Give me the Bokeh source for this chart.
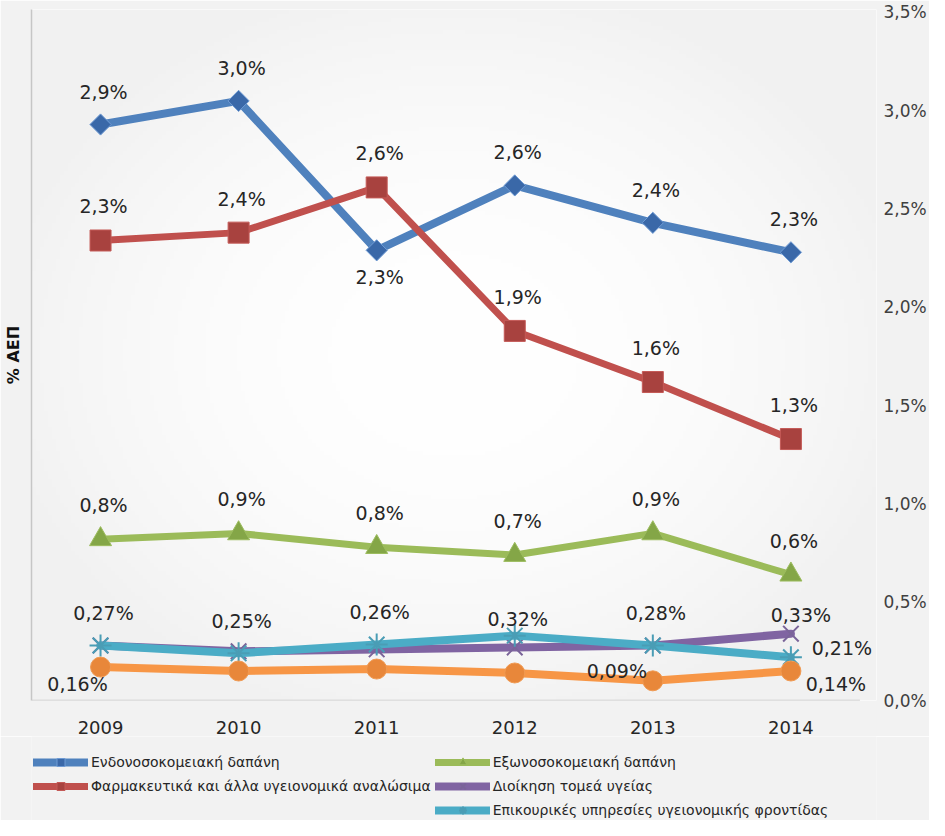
from bokeh.plotting import figure
from bokeh.models import (LinearAxis, FixedTicker, Legend, LegendItem, Range1d)
from bokeh.layouts import column
from bokeh.core.properties import value
from bokeh.embed import file_html
from bokeh.resources import INLINE
import numpy as np
import math

# ---------------- data ----------------
years = [2009, 2010, 2011, 2012, 2013, 2014]
year_labels = ["2009", "2010", "2011", "2012", "2013", "2014"]

inpatient = [2.93, 3.05, 2.29, 2.62, 2.43, 2.28]
pharma = [2.34, 2.38, 2.61, 1.88, 1.62, 1.33]
outpatient = [0.82, 0.85, 0.78, 0.74, 0.85, 0.64]
admin = [0.28, 0.25, 0.26, 0.27, 0.28, 0.34]
ancillary = [0.28, 0.24, 0.285, 0.33, 0.28, 0.22]
other = [0.17, 0.15, 0.16, 0.14, 0.10, 0.15]

inpatient_labels = ["2,9%", "3,0%", "2,3%", "2,6%", "2,4%", "2,3%"]
pharma_labels = ["2,3%", "2,4%", "2,6%", "1,9%", "1,6%", "1,3%"]
outpatient_labels = ["0,8%", "0,9%", "0,8%", "0,7%", "0,9%", "0,6%"]
ancillary_labels = ["0,27%", "0,25%", "0,26%", "0,32%", "0,28%", "0,21%"]
admin_labels = ["0,27%", "0,25%", "0,26%", "0,27%", "0,28%", "0,33%"]
other_labels = ["0,16%", "0,15%", "0,16%", "0,14%", "0,09%", "0,14%"]

names = ["Ενδονοσοκομειακή δαπάνη",
         "Εξωνοσοκομειακή δαπάνη",
         "Φαρμακευτικά και άλλα υγειονομικά αναλώσιμα",
         "Διοίκηση τομεά υγείας",
         "Επικουρικές υπηρεσίες υγειονομικής φροντίδας"]

y_ticks = [0.0, 0.5, 1.0, 1.5, 2.0, 2.5, 3.0, 3.5]
y_tick_labels = ["0,0%", "0,5%", "1,0%", "1,5%", "2,0%", "2,5%", "3,0%", "3,5%"]
y_title = "% ΑΕΠ"

FONT = "DejaVu Sans"
BORDER = "#f2f2f2"

x_lo = years[0] - 0.5
x_hi = years[-1] + 0.5

# styles: (line colour, marker, size, fill, edge, angle, line width)
styles = [
    ("#4f81bd", "square", 15, "#3a68a8", "#6f9bd4", math.pi / 4, 8),
    ("#c0504d", "square", 21, "#a8423f", "#c45a57", 0, 7),
    ("#9bbb59", "triangle", 22, "#84a647", "#9cbc5e", 0, 7),
    ("#8064a2", "x", 22, None, "#7a6499", 0, 8),
    ("#4bacc6", "asterisk", 22, None, "#4a9db5", 0, 8),
    ("#f79646", "circle", 20, "#e8873a", "#f09a52", 0, 8),
]
series_vals = [inpatient, pharma, outpatient, admin, ancillary, other]


def gradient(px0, py0, pw, ph, nx, ny):
    """radial light-grey background (page pixel box -> RGBA image, row 0 at bottom)"""
    xs = px0 + (np.arange(nx) + 0.5) / nx * pw
    ys = py0 + ph - (np.arange(ny) + 0.5) / ny * ph
    X, Y = np.meshgrid(xs, ys)
    r = np.sqrt(((X - 462) / 470) ** 2 + ((Y - 360) / 380) ** 2)
    c = (255 - 14 * np.clip(r, 0, 1.0) ** 2).astype(np.uint8)
    img = np.empty((ny, nx), dtype=np.uint32)
    v = img.view(dtype=np.uint8).reshape((ny, nx, 4))
    v[..., 0] = c
    v[..., 1] = c
    v[..., 2] = c
    v[..., 3] = 255
    return img


def draw_series(fig):
    lines, marks = [], []
    for vals, (col, mk, sz, fc, lc, ang, lw) in zip(series_vals, styles):
        lr = fig.line(years, vals, line_color=col, line_width=lw,
                      line_join="round", line_cap="round")
        if fc is None:
            mr = fig.scatter(years, vals, marker=mk, size=sz, line_color=lc,
                             line_width=2, fill_color=None)
        else:
            mr = fig.scatter(years, vals, marker=mk, size=sz, fill_color=fc,
                             line_color=lc, line_width=1, angle=ang)
        lines.append(lr)
        marks.append(mr)
    return lines, marks


# ---------------- main chart ----------------
x_end = x_hi + 0.12
y_end = 3.515
p = figure(width=929, height=736,
           x_range=Range1d(x_lo, x_end),
           y_range=Range1d(0, y_end), output_backend="svg", toolbar_location=None,
           min_border_left=29, min_border_right=50, min_border_top=9,
           min_border_bottom=0)
p.background_fill_color = "#ffffff"
p.border_fill_color = BORDER
p.outline_line_color = None
p.xgrid.grid_line_color = None
p.ygrid.grid_line_color = None

p.image_rgba(image=[gradient(37, 17, 850, 687, 214, 172)], x=x_lo, y=0,
             dw=x_end - x_lo, dh=y_end)

ya = p.yaxis[0]
ya.ticker = FixedTicker(ticks=[])
ya.axis_line_color = "#c6c6c6"
ya.axis_line_width = 1.5
ya.major_tick_line_color = None
ya.minor_tick_line_color = None
ya.major_label_text_font_size = "0px"
ya.major_label_standoff = 0
ya.axis_label = y_title
ya.axis_label_text_font = FONT
ya.axis_label_text_font_style = "bold"
ya.axis_label_text_font_size = "16px"
ya.axis_label_text_color = "#111111"
ya.axis_label_standoff = 9

ra = LinearAxis(ticker=FixedTicker(ticks=y_ticks),
                major_label_overrides={t: s for t, s in zip(y_ticks, y_tick_labels)})
ra.axis_line_color = None
ra.major_tick_line_color = None
ra.minor_tick_line_color = None
ra.major_label_standoff = 1
ra.major_label_text_font = FONT
ra.major_label_text_font_size = "17px"
ra.major_label_text_color = "#404040"
p.add_layout(ra, "right")

xa = p.xaxis[0]
xa.ticker = FixedTicker(ticks=years)
xa.major_label_overrides = {y: s for y, s in zip(years, year_labels)}
xa.axis_line_color = None
xa.major_tick_line_color = None
xa.minor_tick_line_color = None
xa.major_label_standoff = 14
xa.major_label_text_font = FONT
xa.major_label_text_font_size = "18px"
xa.major_label_text_color = "#262626"

# bottom plot-area border (category span only)
p.segment(x0=[x_lo], y0=[0], x1=[x_hi], y1=[0], line_color="#c6c6c6", line_width=1.5)

draw_series(p)


def add_labels(vals, labs, idx, dx, dy):
    idx = list(idx)
    p.text(x=[years[i] for i in idx], y=[vals[i] for i in idx], text=[labs[i] for i in idx],
           x_offset=dx, y_offset=dy, text_align="center", text_baseline="middle",
           text_font=value(FONT), text_font_size="19px", text_color="#262626")


add_labels(inpatient, inpatient_labels, [0, 1, 3, 4, 5], 3, -33)
add_labels(inpatient, inpatient_labels, [2], 3, 27)
add_labels(pharma, pharma_labels, range(6), 3, -34)
add_labels(outpatient, outpatient_labels, range(6), 3, -34)
add_labels(ancillary, ancillary_labels, [0, 1, 2, 4], 3, -32)
add_labels(ancillary, ancillary_labels, [3], 3, -17)
add_labels(ancillary, ancillary_labels, [5], 51, -9)
add_labels(admin, admin_labels, [5], 10, -19)
add_labels(other, other_labels, [0], -23, 17)
add_labels(other, other_labels, [4], -36, -10)
add_labels(other, other_labels, [5], 45, 13)

# ---------------- legend strip ----------------
q = figure(width=929, height=84, x_range=Range1d(0, 1), y_range=Range1d(0, 1),
           output_backend="svg", toolbar_location=None,
           x_axis_location=None, y_axis_location=None,
           min_border_left=0, min_border_right=0, min_border_top=0, min_border_bottom=0)
q.background_fill_color = BORDER
q.border_fill_color = BORDER
q.outline_line_color = None
q.grid.grid_line_color = None
lg_lines, lg_marks = draw_series(q)   # outside the visible range; used for the legend only
dummy = q.line(years, inpatient, line_alpha=0)

items = [
    LegendItem(label=names[0], renderers=[lg_lines[0], lg_marks[0]]),
    LegendItem(label=names[1], renderers=[lg_lines[2], lg_marks[2]]),
    LegendItem(label=names[2], renderers=[lg_lines[1], lg_marks[1]]),
    LegendItem(label=names[3], renderers=[lg_lines[3], lg_marks[3]]),
    LegendItem(label=" ", renderers=[dummy]),
    LegendItem(label=names[4], renderers=[lg_lines[4], lg_marks[4]]),
]
leg = Legend(items=items, orientation="horizontal", ncols=2, location=(2, 0),
             background_fill_alpha=0, border_line_color=None,
             label_text_font=FONT, label_text_font_size="14px", label_text_color="#262626",
             glyph_width=55, glyph_height=20, label_height=20, label_standoff=3,
             spacing=4, padding=0, margin=0)
q.add_layout(leg, "center")

layout = column(p, q, spacing=0)
open("out.html", "w").write(file_html(layout, INLINE))
